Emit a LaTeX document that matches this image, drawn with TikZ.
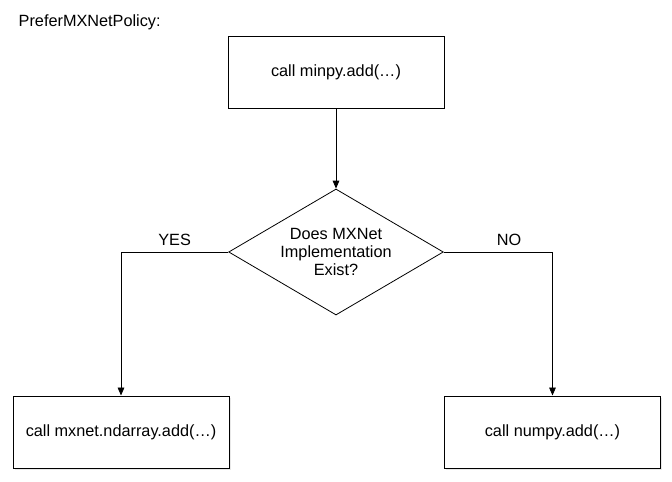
\documentclass[tikz,border=0pt]{standalone}
\usepackage{fontspec}
\setmainfont{Liberation Sans}
\usepackage{tikz}
\usetikzlibrary{shapes,arrows,positioning,calc,shadows,arrows.meta}

\tikzset{
    callbox/.style={draw, fill=white, line width=0.75pt, minimum width=162pt, minimum height=54pt, inner sep=0pt},
    decision/.style={draw, diamond, line width=0.6pt, aspect=1.7, inner sep=0pt, minimum width=161pt, minimum height=94.5pt, align=center},
    flow/.style={line width=0.6pt, -{Triangle[length=6pt, width=5pt]}},
    softshadow/.style={drop shadow={opacity=0.18, shadow xshift=1.2pt, shadow yshift=-1.5pt}}
}

\begin{document}
\begin{tikzpicture}[x=0.75pt, y=-0.75pt, font=\fontsize{12.2}{13.8}\selectfont]
    \useasboundingbox[fill=white] (0,0) rectangle (672,482);

    \node[anchor=west] (title) at (14,22) {PreferMXNetPolicy:};

    % boxes and decision
    \node[callbox] (minpy) at (336,72) {call minpy.add(\ldots)};
    \node[decision] (check) at (336,252) {Does MXNet\\Implementation\\Exist?};
    \node[callbox, softshadow] (mxnet) at (121,432) {call mxnet.ndarray.add(\ldots)};
    \node[callbox, softshadow] (numpy) at (552.5,432) {call numpy.add(\ldots)};

    % connectors
    \draw[flow] (minpy) -- (check);
    \draw[flow] (check.west) -| node[pos=0.25, above, yshift=1pt] {YES} (mxnet.north);
    \draw[flow] (check.east) -| node[pos=0.3, above, yshift=1pt] {NO} (numpy.north);
\end{tikzpicture}
\end{document}
